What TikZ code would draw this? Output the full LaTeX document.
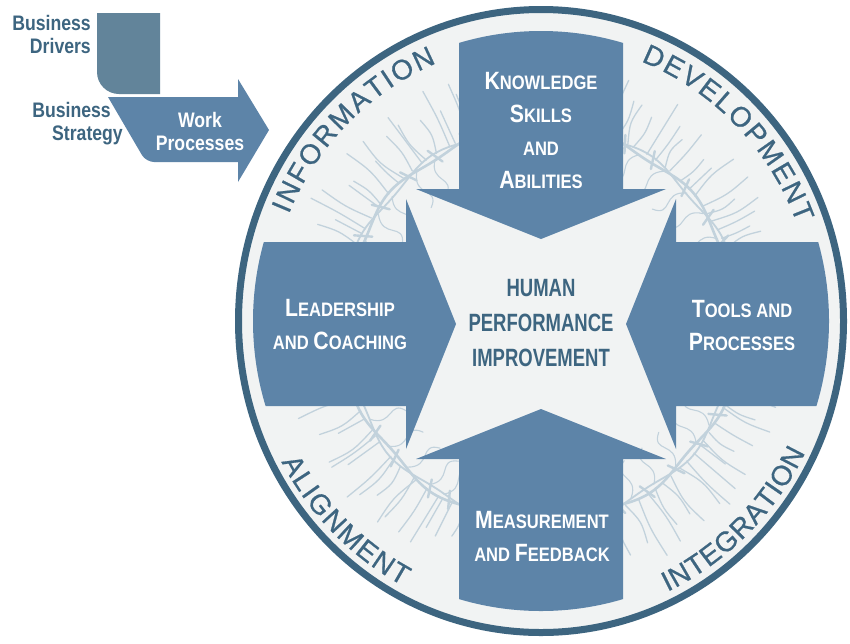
\documentclass[tikz,border=0pt]{standalone}
\usepackage{fontspec}
\setmainfont{Liberation Sans}
\newfontfamily\ringfont[FakeBold=0.7]{Liberation Sans}
\newfontfamily\narrowfont[FakeStretch=0.85]{Liberation Sans}
\newfontfamily\condfont[FakeStretch=0.74]{Liberation Sans}
\newfontfamily\bizfont[FakeStretch=0.84]{Liberation Sans}
\usetikzlibrary{decorations.text}

\definecolor{ringc}{HTML}{3D6580}
\definecolor{arrowc}{HTML}{5D84A8}
\definecolor{boxc}{HTML}{62849A}
\definecolor{paper}{HTML}{F1F3F3}
\definecolor{wreathc}{HTML}{C2D2DC}
\definecolor{inkc}{HTML}{3D6580}

% small-caps look: large initial, smaller remaining capitals
\newcommand\capsc[2]{{\fontsize{25}{33}\selectfont #1}{\fontsize{19.5}{33}\selectfont #2}}
\newcommand\smc[1]{{\fontsize{19.5}{33}\selectfont #1}}

\tikzset{
  armlabel/.style={text=white, font=\narrowfont\bfseries\fontsize{19.5}{33}\selectfont, align=center, inner sep=0pt},
  hublabel/.style={text=inkc, font=\condfont\bfseries\fontsize{25}{35}\selectfont, align=center, inner sep=0pt},
  bizlabel/.style={font=\bizfont\bfseries\fontsize{21}{23}\selectfont, inner sep=0pt},
  wreath/.style={draw=wreathc, line cap=round},
  ringtext/.style={decorate, decoration={text along path, text format delimiters={|}{|},
      text={|\ringfont\fontsize{28}{28}\selectfont\color{ringc}|#1}, text align={fit to path}}},
  armshape/.style={fill=arrowc}
}

\begin{document}
\begin{tikzpicture}[x=1pt, y=1pt]
\useasboundingbox (0,0) rectangle (850,-643);
\fill[white] (0,0) rectangle (850,-643);

% ---- disc ----
\fill[paper] (541,-321) ellipse[x radius=303, y radius=312];

% ---- thorny wreath ----
\begin{scope}
  \clip (541,-321) ellipse[x radius=300, y radius=309];
  \begin{scope}[shift={(541,-324)}]
    \pgfmathsetseed{42}
    \draw[wreath, line width=2.6] plot[domain=0:360, samples=241, smooth] (\x:{198+3*sin(11*\x)});
    \draw[wreath, line width=1.8] plot[domain=0:360, samples=241, smooth] (\x:{198-3*sin(11*\x)});
    \foreach \k in {0,...,119} {
      \pgfmathsetmacro\ang{\k*3+2.5*rnd}
      \pgfmathsetmacro\len{230+34*rnd}
      \pgfmathsetmacro\bend{2*rnd-1}
      \pgfmathsetmacro\mid{(200+\len)/2}
      \draw[wreath, line width=1.3] (\ang:200) .. controls (\ang+\bend*2:\mid) .. (\ang+\bend:\len);
    }
    \foreach \k in {0,...,35} {
      \pgfmathsetmacro\ang{\k*10+5*rnd}
      \draw[wreath, line width=2.4] (\ang:190) -- (\ang+2:207);
    }
    \foreach \k in {0,...,44} {
      \pgfmathsetmacro\ang{\k*8+4*rnd}
      \draw[wreath, line width=1.1] (\ang:196) .. controls (\ang+6:180) and (\ang-3:170) .. (\ang+4:160);
    }
  \end{scope}
\end{scope}

% ---- outer ring ----
\draw[ringc, line width=7] (541,-321) ellipse[x radius=302.5, y radius=311.5];

% ---- four arrows converging on the hub ----
\begin{scope}
  \clip (541,-321) ellipse[x radius=288, y radius=290];
  \begin{scope}[shift={(541,-324)}]
    \foreach \r in {0,90,180,270} {
      \fill[armshape, rotate=\r] (-82,360) -- (-82,135) -- (-125,135) -- (0,85)
        -- (125,135) -- (82,135) -- (82,360) -- cycle;
    }
  \end{scope}
\end{scope}

% ---- arm labels ----
\node[armlabel] (ksa) at (541,-130) {\capsc{K}{NOWLEDGE}\\\capsc{S}{KILLS}\\\smc{AND}\\\capsc{A}{BILITIES}};
\node[armlabel] (lc) at (340,-325) {\capsc{L}{EADERSHIP}\\\smc{AND} \capsc{C}{OACHING}};
\node[armlabel] (tp) at (742,-325) {\capsc{T}{OOLS} \smc{AND}\\\capsc{P}{ROCESSES}};
\node[armlabel] (mf) at (542,-536) {\capsc{M}{EASUREMENT}\\\smc{AND} \capsc{F}{EEDBACK}};

% ---- hub ----
\node[hublabel] (hpi) at (541,-323) {HUMAN\\PERFORMANCE\\IMPROVEMENT};

% ---- ring labels ----
\path[shift={(541,-321)}, ringtext=INFORMATION] (157.5:273 and 279) arc[start angle=157.5, end angle=112.5, x radius=273, y radius=279];
\path[shift={(541,-321)}, ringtext=DEVELOPMENT] (68.5:273 and 279) arc[start angle=68.5, end angle=20.5, x radius=273, y radius=279];
\path[shift={(541,-321)}, ringtext=ALIGNMENT] (208:294 and 300) arc[start angle=208, end angle=242, x radius=294, y radius=300];
\path[shift={(541,-321)}, ringtext=INTEGRATION] (-64.5:294 and 300) arc[start angle=-64.5, end angle=-26, x radius=294, y radius=300];

% ---- business drivers / strategy ----
\fill[boxc] (97,-13) -- (160,-13) -- (160,-94) -- (119,-94) arc[start angle=270, end angle=180, radius=22] -- cycle;
\fill[arrowc] (108,-97) -- (238,-97) -- (238,-79) -- (269,-130) -- (238,-182) -- (238,-162)
  [rounded corners=8] -- (146,-162) [sharp corners] -- (108,-97) -- cycle;

\node[bizlabel, text=ringc, anchor=east, align=right] (drivers) at (91,-34) {Business\\Drivers};
\node[bizlabel, text=ringc, anchor=base east] (strategy1) at (111,-117) {Business};
\node[bizlabel, text=ringc, anchor=base east] (strategy2) at (123,-140) {Strategy};
\node[bizlabel, text=white, align=center] (work) at (200,-131) {Work\\Processes};
\end{tikzpicture}
\end{document}
